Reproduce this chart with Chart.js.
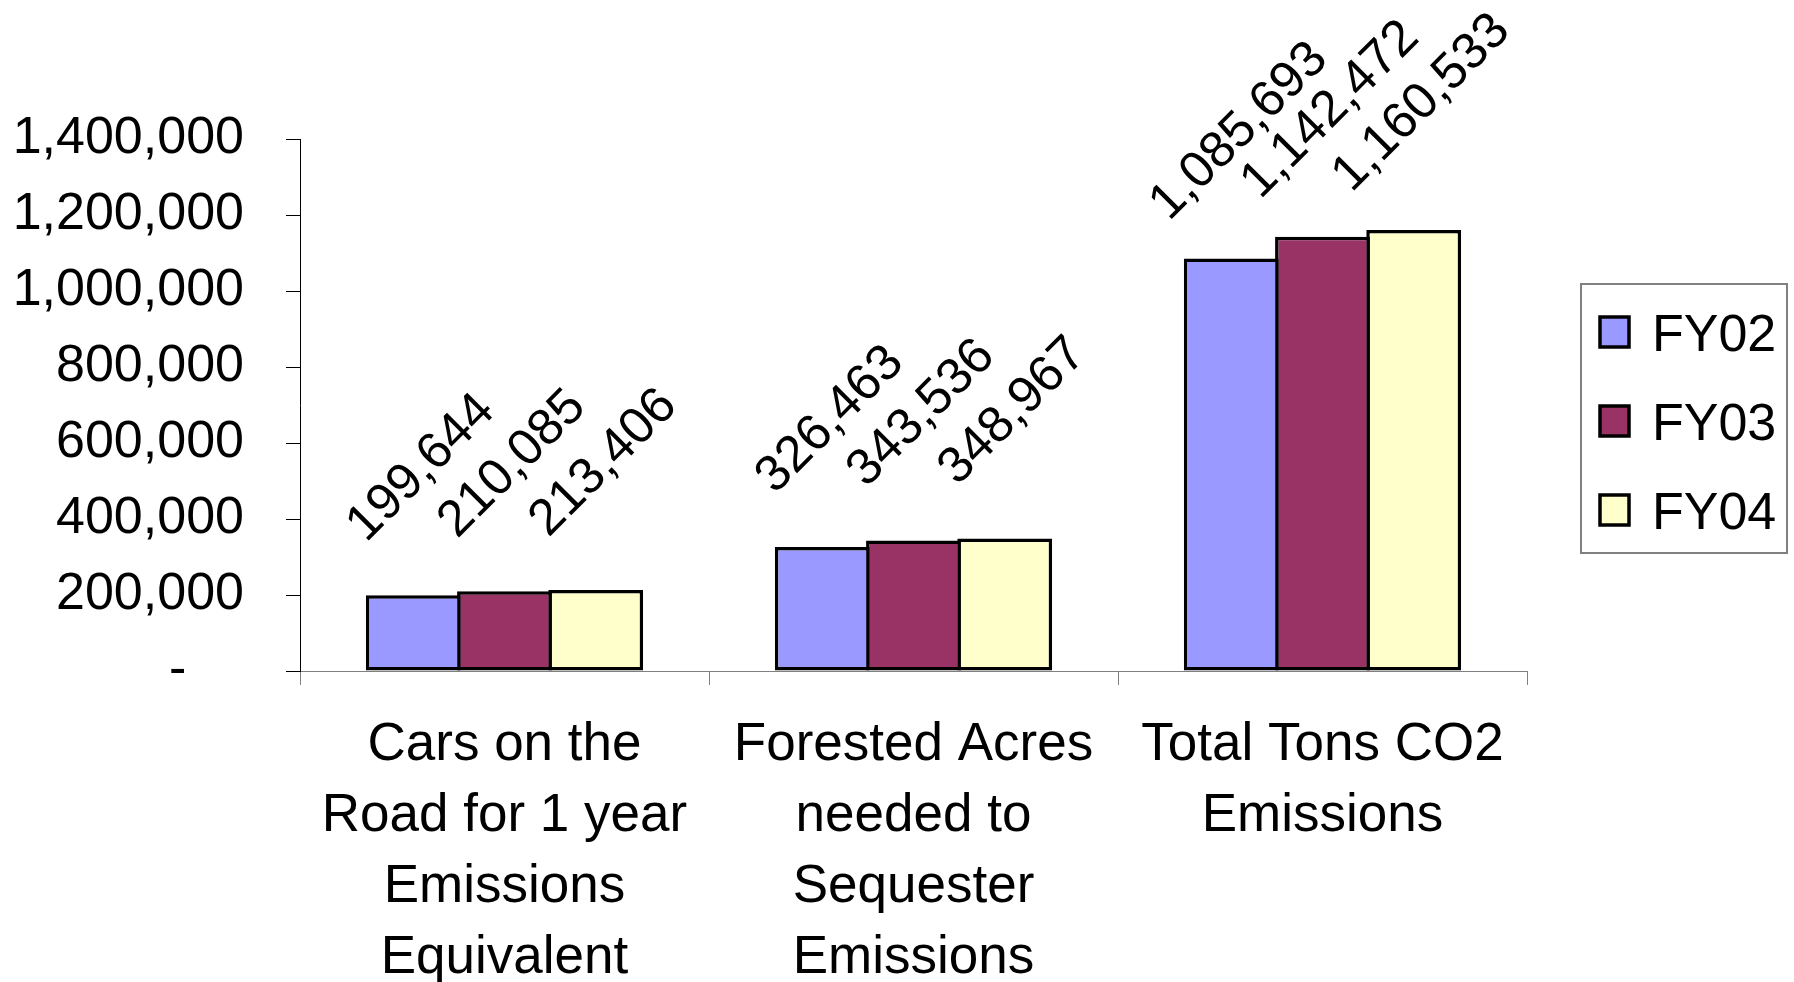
<!DOCTYPE html>
<html>
<head>
<meta charset="utf-8">
<script src="https://cdn.jsdelivr.net/npm/chart.js@4.4.1/dist/chart.umd.min.js"></script>
<style>
  html, body { margin: 0; padding: 0; background: #fff; }
  #wrap { width: 1794px; height: 982px; position: relative; }
</style>
</head>
<body>
<div id="wrap"><canvas id="co2Chart"></canvas></div>
<script>
const categories = [
  ['Cars on the', 'Road for 1 year', 'Emissions', 'Equivalent'],
  ['Forested Acres', 'needed to', 'Sequester', 'Emissions'],
  ['Total Tons CO2', 'Emissions']
];
const seriesNames = ['FY02', 'FY03', 'FY04'];
const fy02 = [199644, 326463, 1085693];
const fy03 = [210085, 343536, 1142472];
const fy04 = [213406, 348967, 1160533];
const seriesColors = ['#9999FF', '#993366', '#FFFFCC'];
const yTicks = [0, 200000, 400000, 600000, 800000, 1000000, 1200000, 1400000];

const FONT = '"Liberation Sans", Arial, sans-serif';
const fmt = v => v.toLocaleString('en-US');

// rotated value labels above each bar
const valueLabels = {
  id: 'valueLabels',
  afterDatasetsDraw(chart) {
    const ctx = chart.ctx;
    const size = 51;
    ctx.save();
    ctx.fillStyle = '#000';
    ctx.font = size + 'px ' + FONT;
    ctx.textAlign = 'center';
    ctx.textBaseline = 'alphabetic';
    chart.data.datasets.forEach((ds, i) => {
      chart.getDatasetMeta(i).data.forEach((bar, j) => {
        ctx.save();
        ctx.translate(bar.x + 5, bar.y - 130);
        ctx.rotate(-Math.PI / 4);
        ctx.fillText(fmt(ds.data[j]), 0, size * 0.36);
        ctx.restore();
      });
    });
    ctx.restore();
  }
};

// boxed legend on the right
const boxLegend = {
  id: 'boxLegend',
  afterDraw(chart) {
    const ctx = chart.ctx;
    const left = 1581, top = 284, w = 206, h = 269;
    ctx.save();
    ctx.strokeStyle = '#808080';
    ctx.lineWidth = 2;
    ctx.strokeRect(left, top, w, h);
    ctx.font = '52px ' + FONT;
    ctx.textBaseline = 'alphabetic';
    ctx.textAlign = 'left';
    chart.data.datasets.forEach((ds, i) => {
      const cy = 332 + i * 89;
      ctx.fillStyle = ds.backgroundColor;
      ctx.fillRect(1600, cy - 15, 29, 30);
      ctx.lineWidth = 3.5;
      ctx.strokeStyle = '#000';
      ctx.strokeRect(1600, cy - 15, 29, 30);
      ctx.fillStyle = '#000';
      ctx.fillText(ds.label, 1652, cy + 52 * 0.36);
    });
    ctx.restore();
  }
};

document.addEventListener('DOMContentLoaded', function(){
  const ctx = document.getElementById('co2Chart').getContext('2d');

  const values = [fy02, fy03, fy04];
  const data = {
    labels: categories,
    datasets: seriesNames.map((name, i) => ({
      label: name,
      data: values[i],
      backgroundColor: seriesColors[i],
      borderColor: '#000',
      borderWidth: 3.5,
      borderSkipped: false,
      barPercentage: 1.04,
      categoryPercentage: 0.669
    }))
  };

  const options = {
    responsive: true,
    maintainAspectRatio: false,
    animation: false,
    layout: { padding: { top: 139, right: 267, left: 0, bottom: 0 } },
    plugins: {
      legend: { display: false },
      tooltip: { enabled: false }
    },
    scales: {
      x: {
        grid: { drawOnChartArea: false, drawTicks: true, tickLength: 14, color: '#808080', offset: true },
        border: { color: '#808080', width: 1 },
        ticks: {
          color: '#000',
          padding: 25,
          maxRotation: 0,
          autoSkip: false,
          font: { family: FONT, size: 53, lineHeight: 1.34 }
        },
        afterFit(scale) { scale.height = 982 - 671; }
      },
      y: {
        min: 0,
        max: yTicks[yTicks.length - 1],
        afterBuildTicks(scale) { scale.ticks = yTicks.map(v => ({ value: v })); },
        grid: { drawOnChartArea: false, drawTicks: true, tickLength: 14, color: '#000' },
        border: { color: '#000', width: 1 },
        ticks: {
          color: '#000',
          padding: 42,
          font: { family: FONT, size: 52 },
          callback: v => v === 0 ? '-    ' : fmt(v)
        },
        afterFit(scale) { scale.width = 300; }
      }
    }
  };

  new Chart(ctx, {
    type: 'bar',
    data: data,
    options: options,
    plugins: [valueLabels, boxLegend]
  });
});
</script>
</body>
</html>
